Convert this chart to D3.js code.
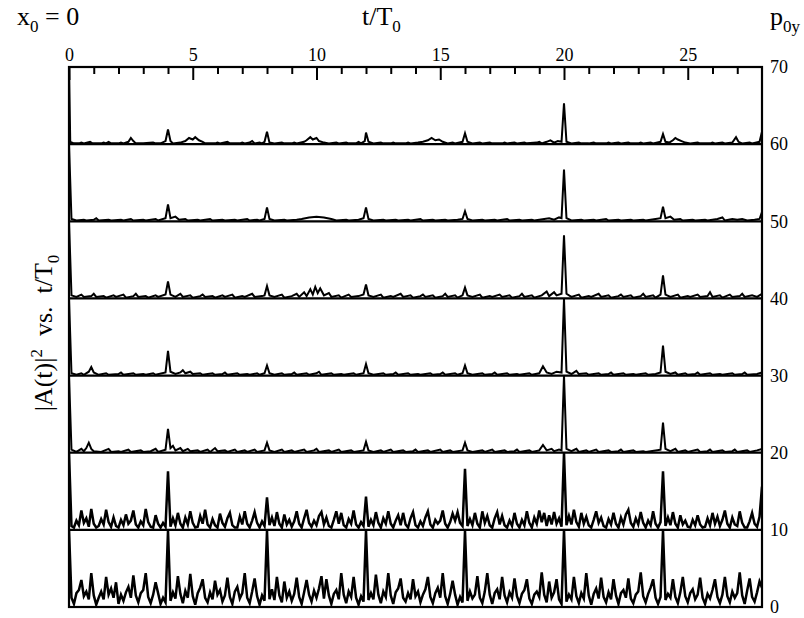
<!DOCTYPE html>
<html>
<head>
<meta charset="utf-8">
<script src="https://cdn.jsdelivr.net/npm/d3@7"></script>
<style>
  body { margin: 0; background: #fff; }
  svg { display: block; font-family: "Liberation Serif", "DejaVu Serif", serif; }
</style>
</head>
<body>
<div id="chart"></div>
<script>
// t/T0 tick labels (top) and p0y labels (right)
const tTicks = [0, 5, 10, 15, 20, 25];
const tMinor = [1, 2, 3, 4, 6, 7, 8, 9, 11, 12, 13, 14, 16, 17, 18, 19, 21, 22, 23, 24, 26, 27];
const pLevels = [0, 10, 20, 30, 40, 50, 60, 70];

// noisy panels, sampled every 0.1 t/T0 from t = 0 to 28 (|A|^2 in panel units)
const tStep = 0.1;
const panel0 = [
  10, 1.2, 0.4, 1.8, 2.2, 3.5, 1.4, 2.0, 1.0, 4.4,
  1.5, 0.3, 1.2, 2.0, 1.0, 3.9, 1.6, 2.4, 1.2, 3.2,
  0.4, 1.6, 0.8, 1.9, 2.6, 1.2, 4.1, 1.5, 0.6, 1.8,
  2.2, 4.4, 1.3, 0.5, 1.6, 3.2, 1.8, 0.4, 1.2, 0.6,
  9.9, 0.8, 1.9, 1.1, 4.0, 1.7, 0.5, 2.1, 1.2, 4.3,
  1.4, 0.3, 1.8, 2.5, 3.6, 1.2, 0.6, 1.9, 1.0, 3.4,
  1.6, 2.2, 0.7, 1.5, 3.8, 1.3, 0.4, 2.0, 2.6, 1.1,
  1.8, 4.4, 1.2, 0.5, 2.0, 3.7, 1.4, 0.3, 1.5, 0.8,
  9.9, 1.0, 2.3, 0.9, 3.9, 1.5, 0.6, 3.3, 1.2, 2.0,
  0.8, 1.7, 3.8, 1.3, 0.4, 1.9, 3.5, 1.6, 0.7, 2.1,
  1.2, 2.4, 4.0, 1.1, 3.6, 1.5, 0.4, 1.7, 2.2, 1.0,
  4.4, 1.6, 0.5, 2.0, 1.3, 3.9, 1.2, 0.3, 1.4, 0.7,
  9.9, 0.9, 1.8, 1.0, 4.2, 1.6, 0.5, 2.0, 1.3, 4.4,
  1.5, 0.4, 1.9, 2.4, 3.7, 1.2, 0.7, 1.8, 1.0, 3.6,
  1.4, 2.0, 0.6, 1.6, 2.3, 3.9, 1.3, 0.5, 1.8, 2.5,
  1.2, 4.4, 1.4, 0.4, 1.7, 3.4, 1.6, 0.3, 1.3, 0.6,
  9.9, 0.8, 2.0, 1.1, 1.6, 4.0, 1.2, 0.5, 2.0, 4.4,
  1.6, 0.4, 1.8, 2.3, 1.0, 3.9, 1.5, 0.6, 1.9, 1.2,
  3.7, 1.4, 0.5, 1.7, 2.2, 3.6, 1.1, 0.4, 1.6, 2.0,
  1.3, 4.5, 1.6, 0.6, 3.3, 1.2, 1.9, 3.6, 1.0, 0.4,
  10, 0.7, 1.6, 1.0, 3.9, 1.4, 0.5, 1.8, 1.1, 4.4,
  1.5, 0.3, 1.7, 2.4, 1.1, 3.8, 1.3, 0.6, 1.9, 1.0,
  3.6, 1.5, 0.4, 1.8, 2.2, 1.2, 3.7, 1.1, 0.5, 1.6,
  2.0, 4.5, 1.4, 0.6, 1.7, 2.5, 3.6, 1.2, 0.4, 1.3,
  9.9, 0.9, 1.7, 1.2, 3.6, 1.3, 0.5, 1.9, 3.9, 1.4,
  0.6, 1.8, 2.3, 1.0, 1.6, 3.8, 1.2, 0.4, 1.7, 1.1,
  2.2, 3.6, 1.3, 0.5, 1.6, 3.9, 1.4, 0.6, 2.0, 1.2,
  1.8, 4.5, 1.5, 0.4, 2.1, 3.7, 1.3, 0.7, 1.9, 3.3,
  2.5
];
const panel10 = [
  10, 0.5, 0.3, 1.2, 0.6, 2.5, 0.9, 1.5, 0.4, 2.7,
  0.8, 0.3, 0.5, 1.4, 0.7, 2.6, 1.0, 0.4, 1.6, 0.5,
  0.3, 1.3, 0.6, 2.0, 0.8, 1.2, 2.5, 0.7, 0.3, 1.1,
  0.6, 2.7, 1.0, 0.4, 0.3, 1.9, 0.8, 0.3, 0.9, 0.4,
  7.6, 0.4, 1.5, 0.6, 2.2, 0.8, 0.3, 1.6, 0.7, 2.4,
  0.9, 0.3, 0.4, 1.8, 0.8, 2.6, 0.7, 0.3, 1.4, 0.6,
  0.3, 2.1, 0.9, 0.4, 1.5, 2.2, 0.6, 0.3, 0.3, 1.7,
  0.7, 2.4, 0.8, 0.3, 1.2, 2.3, 0.9, 0.3, 1.1, 0.5,
  4.2, 0.6, 1.6, 0.5, 2.3, 0.8, 0.3, 2.0, 0.7, 1.3,
  0.4, 1.1, 2.4, 0.8, 0.3, 1.5, 2.6, 0.9, 0.4, 1.2,
  0.6, 1.8, 2.3, 0.7, 1.6, 0.5, 0.3, 1.3, 2.4, 0.8,
  2.2, 0.6, 0.3, 1.4, 0.8, 2.5, 0.7, 0.3, 1.0, 0.5,
  4.3, 0.4, 1.3, 0.6, 2.3, 0.9, 0.3, 1.5, 0.8, 2.4,
  0.8, 0.3, 1.2, 1.9, 0.6, 2.2, 0.7, 0.3, 1.5, 2.3,
  0.6, 0.3, 1.1, 0.5, 1.6, 2.4, 0.7, 0.3, 1.3, 0.8,
  1.2, 2.5, 0.8, 0.3, 1.0, 2.1, 1.2, 2.3, 0.9, 0.5,
  7.9, 0.5, 1.4, 0.6, 2.2, 0.8, 0.3, 2.4, 0.9, 1.8,
  0.6, 0.3, 1.5, 2.3, 0.7, 1.8, 0.6, 0.3, 1.2, 0.5,
  2.2, 0.8, 0.3, 1.3, 0.6, 2.4, 0.9, 0.3, 1.6, 0.8,
  2.5, 1.0, 2.2, 0.5, 1.9, 0.7, 2.3, 0.8, 1.5, 0.4,
  10, 0.6, 1.8, 0.7, 2.6, 1.0, 0.4, 2.2, 0.8, 1.7,
  0.6, 0.3, 1.3, 2.4, 0.9, 1.6, 0.5, 0.3, 1.4, 0.7,
  2.2, 0.8, 0.3, 1.6, 0.7, 2.0, 2.6, 0.9, 0.4, 1.5,
  0.7, 2.3, 0.9, 0.3, 1.2, 0.6, 2.4, 0.8, 0.3, 1.0,
  7.6, 0.5, 1.6, 0.6, 2.3, 0.8, 0.3, 1.9, 0.7, 1.2,
  0.4, 0.3, 1.3, 0.6, 1.9, 0.7, 0.3, 0.4, 1.5, 0.6,
  2.2, 0.8, 1.7, 0.5, 1.3, 2.5, 0.8, 0.3, 1.6, 0.7,
  0.5, 2.4, 0.9, 0.3, 0.3, 1.1, 2.2, 0.8, 0.4, 1.7,
  5.6
];

// quiet panels, [t/T0, |A|^2 in panel units]
const panel20 = [[0,10],[0.1,0.4],[0.3,0.1],[0.5,0.5],[0.6,0.2],[0.7,0.6],[0.8,1.3],[0.9,0.5],[1.0,0.2],[1.3,0.1],[1.6,0.5],[1.7,0.1],[2.0,0.2],[2.1,0.1],[2.4,0.4],[2.5,0.1],[2.9,0.3],[3.0,0.1],[3.3,0.2],[3.5,0.5],[3.6,0.1],[3.9,0.4],[4.0,3.1],[4.1,0.6],[4.2,0.9],[4.3,0.3],[4.5,0.6],[4.6,0.2],[4.8,0.5],[4.9,0.2],[5.2,0.3],[5.3,0.1],[5.6,0.4],[5.7,0.1],[5.9,0.6],[6.0,0.2],[6.3,0.3],[6.4,0.1],[6.7,0.4],[6.8,0.1],[7.1,0.3],[7.2,0.1],[7.5,0.4],[7.6,0.1],[7.9,0.3],[8.0,1.3],[8.1,0.3],[8.3,0.1],[8.6,0.4],[8.7,0.1],[9.0,0.3],[9.1,0.1],[9.5,0.4],[9.6,0.1],[9.9,0.3],[10.0,0.5],[10.1,0.1],[10.5,0.3],[10.6,0.1],[10.9,0.4],[11.0,0.1],[11.4,0.3],[11.5,0.1],[11.9,0.3],[12.0,1.4],[12.1,0.3],[12.3,0.1],[12.6,0.3],[12.7,0.1],[13.0,0.4],[13.1,0.1],[13.5,0.3],[13.6,0.1],[13.9,0.2],[14.0,0.4],[14.1,0.1],[14.5,0.3],[14.6,0.1],[15.0,0.4],[15.1,0.1],[15.4,0.3],[15.5,0.1],[15.9,0.3],[16.0,1.3],[16.1,0.3],[16.3,0.1],[16.7,0.3],[16.8,0.1],[17.1,0.4],[17.2,0.1],[17.6,0.3],[17.7,0.1],[18.0,0.2],[18.1,0.4],[18.2,0.1],[18.6,0.3],[18.7,0.1],[19.0,0.3],[19.15,1.0],[19.3,0.3],[19.5,0.5],[19.6,0.2],[19.8,0.4],[19.9,0.3],[20.0,10],[20.1,0.5],[20.3,0.2],[20.5,0.5],[20.6,0.1],[20.9,0.3],[21.0,0.1],[21.3,0.4],[21.4,0.1],[21.8,0.3],[21.9,0.1],[22.2,0.2],[22.3,0.4],[22.4,0.1],[22.8,0.3],[22.9,0.1],[23.2,0.2],[23.3,0.1],[23.7,0.3],[23.9,0.4],[24.0,3.9],[24.1,0.5],[24.3,0.2],[24.5,0.5],[24.6,0.1],[24.9,0.3],[25.0,0.1],[25.4,0.4],[25.5,0.1],[25.8,0.2],[25.9,0.4],[26.0,0.1],[26.4,0.3],[26.5,0.1],[26.8,0.2],[26.9,0.4],[27.0,0.1],[27.4,0.3],[27.5,0.1],[27.8,0.3],[28.0,0.5]];
const panel30 = [[0,10],[0.1,0.3],[0.3,0.1],[0.5,0.3],[0.6,0.1],[0.8,0.5],[0.9,1.1],[1.0,0.4],[1.2,0.1],[1.5,0.3],[1.6,0.1],[2.0,0.2],[2.1,0.4],[2.2,0.1],[2.6,0.3],[2.7,0.1],[3.0,0.2],[3.1,0.1],[3.4,0.3],[3.5,0.1],[3.9,0.4],[4.0,3.2],[4.1,0.5],[4.3,0.2],[4.5,0.4],[4.6,0.7],[4.7,0.3],[4.9,0.5],[5.0,0.2],[5.3,0.3],[5.4,0.1],[5.8,0.3],[5.9,0.1],[6.2,0.2],[6.3,0.4],[6.4,0.1],[6.8,0.3],[6.9,0.1],[7.2,0.2],[7.3,0.1],[7.6,0.3],[7.7,0.1],[7.9,0.3],[8.0,1.3],[8.1,0.3],[8.3,0.1],[8.6,0.3],[8.7,0.1],[9.0,0.2],[9.1,0.4],[9.2,0.1],[9.6,0.3],[9.7,0.1],[10.0,0.3],[10.1,0.5],[10.2,0.1],[10.6,0.3],[10.7,0.1],[11.0,0.2],[11.1,0.1],[11.5,0.3],[11.6,0.1],[11.9,0.3],[12.0,1.5],[12.1,0.3],[12.3,0.1],[12.7,0.3],[12.8,0.1],[13.1,0.2],[13.2,0.4],[13.3,0.1],[13.7,0.3],[13.8,0.1],[14.1,0.2],[14.2,0.1],[14.6,0.3],[14.7,0.1],[15.0,0.2],[15.1,0.4],[15.2,0.1],[15.6,0.3],[15.7,0.1],[15.9,0.3],[16.0,1.3],[16.1,0.3],[16.3,0.1],[16.7,0.3],[16.8,0.1],[17.1,0.2],[17.2,0.4],[17.3,0.1],[17.7,0.3],[17.8,0.1],[18.1,0.2],[18.2,0.1],[18.6,0.3],[18.7,0.1],[19.0,0.3],[19.15,1.2],[19.3,0.4],[19.5,0.2],[19.7,0.5],[19.9,0.4],[20.0,10],[20.1,0.5],[20.3,0.2],[20.5,0.6],[20.6,0.2],[20.9,0.3],[21.0,0.1],[21.4,0.3],[21.5,0.1],[21.8,0.2],[21.9,0.4],[22.0,0.1],[22.4,0.3],[22.5,0.1],[22.8,0.2],[22.9,0.1],[23.3,0.3],[23.4,0.1],[23.7,0.2],[23.9,0.4],[24.0,3.9],[24.1,0.5],[24.3,0.2],[24.5,0.4],[24.6,0.1],[24.9,0.3],[25.0,0.1],[25.3,0.2],[25.4,0.4],[25.5,0.1],[25.9,0.3],[26.0,0.1],[26.3,0.2],[26.4,0.1],[26.8,0.3],[26.9,0.1],[27.2,0.2],[27.3,0.4],[27.4,0.1],[27.8,0.2],[28.0,0.4]];
const panel40 = [[0,10],[0.1,0.4],[0.3,0.2],[0.5,0.5],[0.6,0.2],[0.9,0.3],[1.0,0.6],[1.1,0.2],[1.4,0.3],[1.5,0.1],[1.8,0.4],[1.9,0.2],[2.2,0.5],[2.3,0.1],[2.6,0.3],[2.7,0.6],[2.8,0.2],[3.1,0.3],[3.2,0.1],[3.5,0.4],[3.6,0.2],[3.9,0.5],[4.0,2.2],[4.1,0.5],[4.3,0.2],[4.5,0.6],[4.6,0.2],[4.9,0.4],[5.0,0.1],[5.3,0.3],[5.4,0.5],[5.5,0.2],[5.8,0.3],[5.9,0.1],[6.2,0.4],[6.3,0.2],[6.6,0.5],[6.7,0.1],[7.0,0.3],[7.1,0.2],[7.4,0.6],[7.5,0.2],[7.8,0.3],[7.9,0.4],[8.0,1.6],[8.1,0.4],[8.3,0.2],[8.6,0.5],[8.7,0.1],[9.0,0.3],[9.2,0.6],[9.3,0.2],[9.5,0.8],[9.6,0.3],[9.75,1.2],[9.85,0.5],[9.95,1.5],[10.05,0.7],[10.15,1.3],[10.3,0.4],[10.5,0.7],[10.6,0.2],[10.9,0.4],[11.0,0.1],[11.3,0.5],[11.4,0.2],[11.7,0.3],[11.9,0.5],[12.0,1.8],[12.1,0.4],[12.3,0.2],[12.6,0.5],[12.7,0.1],[13.0,0.3],[13.1,0.2],[13.4,0.6],[13.5,0.2],[13.8,0.4],[13.9,0.1],[14.2,0.3],[14.3,0.5],[14.4,0.2],[14.7,0.4],[14.8,0.1],[15.1,0.3],[15.2,0.6],[15.3,0.2],[15.6,0.4],[15.7,0.1],[15.9,0.4],[16.0,1.4],[16.1,0.4],[16.3,0.2],[16.6,0.5],[16.7,0.1],[17.0,0.3],[17.1,0.2],[17.4,0.5],[17.5,0.2],[17.8,0.4],[17.9,0.1],[18.2,0.3],[18.3,0.6],[18.4,0.2],[18.7,0.4],[18.8,0.1],[19.1,0.4],[19.3,0.9],[19.4,0.3],[19.6,0.8],[19.7,0.4],[19.9,0.6],[20.0,8.2],[20.1,0.6],[20.3,0.2],[20.6,0.5],[20.7,0.1],[21.0,0.3],[21.1,0.2],[21.4,0.6],[21.5,0.2],[21.8,0.4],[21.9,0.1],[22.2,0.3],[22.3,0.5],[22.4,0.2],[22.7,0.4],[22.8,0.1],[23.1,0.3],[23.2,0.6],[23.3,0.2],[23.6,0.4],[23.7,0.1],[23.9,0.5],[24.0,3.0],[24.1,0.5],[24.3,0.2],[24.6,0.5],[24.7,0.1],[25.0,0.3],[25.1,0.2],[25.4,0.5],[25.5,0.2],[25.8,0.3],[25.9,0.8],[26.0,0.2],[26.3,0.4],[26.4,0.1],[26.7,0.5],[26.8,0.2],[27.1,0.3],[27.2,0.6],[27.3,0.2],[27.6,0.4],[27.8,0.2],[28.0,0.6]];
const panel50 = [[0,10],[0.1,0.3],[0.3,0.1],[0.6,0.2],[0.7,0.1],[1.0,0.2],[1.1,0.4],[1.2,0.1],[1.6,0.2],[1.7,0.1],[2.1,0.2],[2.2,0.1],[2.5,0.3],[2.6,0.1],[3.0,0.2],[3.1,0.1],[3.5,0.3],[3.6,0.1],[3.9,0.4],[4.0,2.2],[4.1,0.4],[4.3,0.6],[4.45,0.2],[4.7,0.3],[4.8,0.1],[5.2,0.2],[5.3,0.1],[5.7,0.3],[5.8,0.1],[6.2,0.2],[6.3,0.1],[6.7,0.2],[6.8,0.1],[7.2,0.3],[7.3,0.1],[7.6,0.2],[7.7,0.1],[7.9,0.3],[8.0,1.8],[8.1,0.3],[8.3,0.1],[8.7,0.2],[8.8,0.1],[9.2,0.2],[9.4,0.3],[9.7,0.5],[10.0,0.6],[10.3,0.5],[10.6,0.3],[10.8,0.1],[11.2,0.2],[11.3,0.1],[11.7,0.2],[11.9,0.4],[12.0,1.8],[12.1,0.3],[12.3,0.1],[12.7,0.2],[12.8,0.1],[13.2,0.2],[13.3,0.1],[13.7,0.2],[13.8,0.1],[14.2,0.3],[14.3,0.1],[14.7,0.2],[14.8,0.1],[15.2,0.2],[15.3,0.1],[15.7,0.2],[15.9,0.3],[16.0,1.3],[16.1,0.3],[16.3,0.1],[16.7,0.2],[16.8,0.1],[17.2,0.2],[17.3,0.1],[17.7,0.3],[17.8,0.1],[18.2,0.2],[18.3,0.1],[18.7,0.2],[18.8,0.1],[19.2,0.3],[19.4,0.4],[19.6,0.2],[19.8,0.5],[19.9,0.4],[20.0,6.7],[20.1,0.4],[20.3,0.1],[20.7,0.2],[20.8,0.1],[21.2,0.2],[21.3,0.1],[21.7,0.3],[21.8,0.1],[22.2,0.2],[22.3,0.1],[22.7,0.2],[22.8,0.1],[23.2,0.2],[23.3,0.1],[23.7,0.3],[23.9,0.4],[24.0,1.9],[24.1,0.4],[24.3,0.6],[24.45,0.2],[24.7,0.3],[24.8,0.1],[25.2,0.2],[25.3,0.1],[25.7,0.2],[25.8,0.1],[26.2,0.3],[26.4,0.5],[26.5,0.1],[26.8,0.3],[27.0,0.2],[27.2,0.3],[27.4,0.1],[27.7,0.2],[27.9,0.3],[28.0,1.2]];
const panel60 = [[0,10],[0.05,0.3],[0.2,0.1],[0.4,0.1],[0.5,0.2],[0.6,0.1],[0.85,0.3],[0.95,0.1],[1.3,0.1],[1.4,0.2],[1.5,0.1],[1.6,0.3],[1.7,0.1],[2.0,0.1],[2.1,0.2],[2.2,0.1],[2.4,0.3],[2.5,0.8],[2.6,0.4],[2.7,0.1],[3.0,0.1],[3.4,0.2],[3.5,0.1],[3.7,0.1],[3.9,0.4],[4.0,1.9],[4.1,0.4],[4.2,0.1],[4.5,0.2],[4.7,0.4],[4.85,0.8],[5.0,0.6],[5.1,0.9],[5.25,0.5],[5.4,0.3],[5.5,0.1],[5.9,0.1],[6.0,0.2],[6.1,0.1],[6.4,0.3],[6.5,0.1],[6.9,0.1],[7.0,0.2],[7.1,0.1],[7.3,0.2],[7.4,0.4],[7.5,0.1],[7.7,0.2],[7.8,0.1],[7.9,0.3],[8.0,1.6],[8.1,0.2],[8.3,0.1],[8.6,0.2],[8.7,0.1],[9.0,0.1],[9.1,0.2],[9.2,0.1],[9.5,0.3],[9.6,0.5],[9.75,0.9],[9.85,0.6],[10.0,0.8],[10.1,0.4],[10.3,0.2],[10.5,0.1],[10.8,0.2],[10.9,0.1],[11.2,0.2],[11.3,0.1],[11.6,0.1],[11.7,0.3],[11.8,0.1],[11.95,0.4],[12.0,1.5],[12.1,0.3],[12.3,0.1],[12.6,0.2],[12.7,0.1],[13.0,0.1],[13.1,0.2],[13.2,0.1],[13.6,0.1],[13.7,0.2],[13.8,0.1],[14.1,0.2],[14.3,0.3],[14.5,0.5],[14.65,0.8],[14.8,0.5],[14.95,0.6],[15.1,0.3],[15.3,0.1],[15.5,0.2],[15.6,0.1],[15.9,0.3],[16.0,1.4],[16.1,0.3],[16.3,0.1],[16.6,0.2],[16.7,0.1],[17.0,0.2],[17.1,0.1],[17.5,0.1],[17.6,0.2],[17.7,0.1],[18.0,0.2],[18.1,0.1],[18.4,0.2],[18.5,0.1],[18.9,0.2],[19.0,0.3],[19.1,0.1],[19.3,0.3],[19.45,0.5],[19.6,0.2],[19.75,0.4],[19.9,0.3],[20.0,5.3],[20.1,0.3],[20.3,0.1],[20.6,0.2],[20.7,0.1],[21.0,0.1],[21.2,0.2],[21.3,0.1],[21.7,0.1],[21.8,0.2],[21.9,0.1],[22.2,0.2],[22.3,0.1],[22.6,0.2],[22.7,0.1],[23.0,0.1],[23.1,0.2],[23.2,0.1],[23.5,0.2],[23.6,0.1],[23.9,0.3],[24.0,1.3],[24.1,0.3],[24.25,0.2],[24.4,0.5],[24.5,0.8],[24.6,0.6],[24.75,0.4],[24.9,0.2],[25.1,0.1],[25.4,0.2],[25.5,0.1],[25.9,0.1],[26.0,0.2],[26.1,0.1],[26.4,0.2],[26.5,0.1],[26.8,0.2],[26.95,0.9],[27.05,0.3],[27.2,0.1],[27.5,0.2],[27.6,0.1],[27.9,0.3],[28.0,1.6]];

(function() {
    'use strict';

    const width = 804, height = 618;
    const margin = { top: 67, right: 42, bottom: 11, left: 69 };
    const x0 = margin.left, x1 = width - margin.right;
    const y0 = height - margin.bottom, y1 = margin.top;

    const x = d3.scaleLinear().domain([0, 28]).range([x0, x1]);
    const y = d3.scaleLinear().domain([0, 70]).range([y0, y1]);

    const svg = d3.select('#chart').append('svg')
        .attr('width', width)
        .attr('height', height)
        .attr('viewBox', `0 0 ${width} ${height}`);

    svg.append('rect').attr('width', width).attr('height', height).attr('fill', '#fff');

    // turn the two data formats into {t, v} lists with their offsets
    const uniform = (arr) => arr.map((v, i) => ({ t: +(i * tStep).toFixed(2), v }));
    const pairs = (arr) => arr.map(d => ({ t: d[0], v: d[1] }));
    const series = [
        { p: 0, pts: uniform(panel0), w: 2.5 },
        { p: 10, pts: uniform(panel10), w: 2.5 },
        { p: 20, pts: pairs(panel20), w: 2 },
        { p: 30, pts: pairs(panel30), w: 2 },
        { p: 40, pts: pairs(panel40), w: 2 },
        { p: 50, pts: pairs(panel50), w: 2 },
        { p: 60, pts: pairs(panel60), w: 2 }
    ];

    svg.append('clipPath').attr('id', 'plot-clip')
        .append('rect')
        .attr('x', x0).attr('y', y1)
        .attr('width', x1 - x0).attr('height', y0 - y1);

    // panel separators
    svg.append('g')
        .selectAll('line')
        .data(pLevels.filter(p => p > 0 && p < 70))
        .enter().append('line')
        .attr('x1', x0).attr('x2', x1)
        .attr('y1', d => y(d)).attr('y2', d => y(d))
        .attr('stroke', '#000')
        .attr('stroke-width', 2.2);

    // curves
    svg.append('g')
        .attr('clip-path', 'url(#plot-clip)')
        .selectAll('path')
        .data(series)
        .enter().append('path')
        .attr('fill', 'none')
        .attr('stroke', '#000')
        .attr('stroke-width', s => s.w)
        .attr('stroke-linejoin', 'miter')
        .attr('d', s => d3.line()
            .x(d => x(d.t))
            .y(d => y(s.p + d.v))(s.pts));

    // frame
    svg.append('rect')
        .attr('x', x0).attr('y', y1)
        .attr('width', x1 - x0).attr('height', y0 - y1)
        .attr('fill', 'none')
        .attr('stroke', '#000')
        .attr('stroke-width', 2.2);

    // top axis: inward ticks, labels above
    const topAxis = svg.append('g')
        .attr('transform', `translate(0,${y1})`)
        .call(d3.axisTop(x).tickValues(tTicks).tickSize(-13).tickPadding(6).tickFormat(d3.format('d')));
    topAxis.select('.domain').remove();
    topAxis.selectAll('.tick line').attr('stroke-width', 2);
    topAxis.selectAll('text')
        .attr('font-family', '"Liberation Serif", serif')
        .attr('font-size', 18)
        .attr('fill', '#000');

    const minorAxis = svg.append('g')
        .attr('transform', `translate(0,${y1})`)
        .call(d3.axisTop(x).tickValues(tMinor).tickSize(-7).tickFormat(''));
    minorAxis.select('.domain').remove();
    minorAxis.selectAll('.tick line').attr('stroke-width', 2);

    // right axis: p0y labels
    const rightAxis = svg.append('g')
        .attr('transform', `translate(${x1},0)`)
        .call(d3.axisRight(y).tickValues(pLevels).tickSize(0).tickPadding(8).tickFormat(d3.format('d')));
    rightAxis.select('.domain').remove();
    rightAxis.selectAll('text')
        .attr('font-family', '"Liberation Serif", serif')
        .attr('font-size', 18)
        .attr('fill', '#000');

    // titles
    const title = (tx, ty, parts, rotate) => {
        const t = svg.append('text')
            .attr('font-size', 26)
            .attr('fill', '#000')
            .style('white-space', 'pre');
        if (rotate) {
            t.attr('transform', `translate(${tx},${ty}) rotate(-90)`).attr('text-anchor', 'middle');
        } else {
            t.attr('x', tx).attr('y', ty);
        }
        let shift = 0;
        parts.forEach(([str, kind]) => {
            const target = kind === 'sub' ? 7 : kind === 'sup' ? -10 : 0;
            t.append('tspan')
                .attr('dy', target - shift)
                .attr('font-size', kind ? 17 : 26)
                .text(str);
            shift = target;
        });
        return t;
    };

    title(17, 25, [['x'], ['0', 'sub'], [' = 0']]);
    title(362, 25, [['t/T'], ['0', 'sub']]);
    title(770, 25, [['p'], ['0y', 'sub']]);
    title(52, 333, [['|A(t)|'], ['2', 'sup'], ['\u00a0 vs.\u00a0 t/T'], ['0', 'sub']], true);
})();
</script>
</body>
</html>
